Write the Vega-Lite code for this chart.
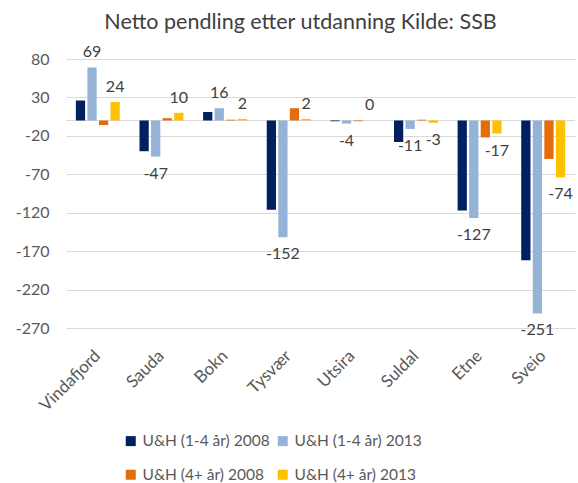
{
  "$schema": "https://vega.github.io/schema/vega-lite/v6.json",
  "width": 509,
  "height": 269,
  "autosize": {"type": "none"},
  "padding": {"left": 66, "top": 59, "right": 3, "bottom": 155},
  "background": "white",
  "title": {
    "text": "Netto pendling etter utdanning Kilde: SSB",
    "font": "Lato",
    "fontSize": 21.5,
    "fontWeight": "normal",
    "color": "#404040",
    "anchor": "middle",
    "dx": -20,
    "offset": 11
  },
  "config": {
    "view": {"stroke": null},
    "font": "Lato",
    "axis": {"labelFont": "Lato", "labelColor": "#595959", "gridColor": "#D9D9D9", "domain": false, "ticks": false}
  },
  "data": {
    "values": [
      {"kommune": "Vindafjord", "serie": "U&H (1-4 år) 2008", "verdi": 26},
      {"kommune": "Vindafjord", "serie": "U&H (1-4 år) 2013", "verdi": 69},
      {"kommune": "Vindafjord", "serie": "U&H (4+ år) 2008", "verdi": -6},
      {"kommune": "Vindafjord", "serie": "U&H (4+ år) 2013", "verdi": 24},
      {"kommune": "Sauda", "serie": "U&H (1-4 år) 2008", "verdi": -40},
      {"kommune": "Sauda", "serie": "U&H (1-4 år) 2013", "verdi": -47},
      {"kommune": "Sauda", "serie": "U&H (4+ år) 2008", "verdi": 3},
      {"kommune": "Sauda", "serie": "U&H (4+ år) 2013", "verdi": 10},
      {"kommune": "Bokn", "serie": "U&H (1-4 år) 2008", "verdi": 11},
      {"kommune": "Bokn", "serie": "U&H (1-4 år) 2013", "verdi": 16},
      {"kommune": "Bokn", "serie": "U&H (4+ år) 2008", "verdi": 1},
      {"kommune": "Bokn", "serie": "U&H (4+ år) 2013", "verdi": 2},
      {"kommune": "Tysvær", "serie": "U&H (1-4 år) 2008", "verdi": -116},
      {"kommune": "Tysvær", "serie": "U&H (1-4 år) 2013", "verdi": -152},
      {"kommune": "Tysvær", "serie": "U&H (4+ år) 2008", "verdi": 16},
      {"kommune": "Tysvær", "serie": "U&H (4+ år) 2013", "verdi": 2},
      {"kommune": "Utsira", "serie": "U&H (1-4 år) 2008", "verdi": -1},
      {"kommune": "Utsira", "serie": "U&H (1-4 år) 2013", "verdi": -4},
      {"kommune": "Utsira", "serie": "U&H (4+ år) 2008", "verdi": -1},
      {"kommune": "Utsira", "serie": "U&H (4+ år) 2013", "verdi": 0},
      {"kommune": "Suldal", "serie": "U&H (1-4 år) 2008", "verdi": -28},
      {"kommune": "Suldal", "serie": "U&H (1-4 år) 2013", "verdi": -11},
      {"kommune": "Suldal", "serie": "U&H (4+ år) 2008", "verdi": 1},
      {"kommune": "Suldal", "serie": "U&H (4+ år) 2013", "verdi": -3},
      {"kommune": "Etne", "serie": "U&H (1-4 år) 2008", "verdi": -117},
      {"kommune": "Etne", "serie": "U&H (1-4 år) 2013", "verdi": -127},
      {"kommune": "Etne", "serie": "U&H (4+ år) 2008", "verdi": -22},
      {"kommune": "Etne", "serie": "U&H (4+ år) 2013", "verdi": -17},
      {"kommune": "Sveio", "serie": "U&H (1-4 år) 2008", "verdi": -182},
      {"kommune": "Sveio", "serie": "U&H (1-4 år) 2013", "verdi": -251},
      {"kommune": "Sveio", "serie": "U&H (4+ år) 2008", "verdi": -50},
      {"kommune": "Sveio", "serie": "U&H (4+ år) 2013", "verdi": -74}
    ]
  },
  "encoding": {
    "x": {
      "field": "kommune",
      "type": "nominal",
      "sort": null,
      "scale": {"paddingInner": 0.31, "paddingOuter": 0.155},
      "axis": {"title": null, "labelAngle": -45, "labelAlign": "right", "labelBaseline": "middle", "labelFontSize": 17, "labelPadding": 25, "grid": false}
    },
    "xOffset": {
      "field": "serie",
      "type": "nominal",
      "sort": ["U&H (1-4 år) 2008", "U&H (1-4 år) 2013", "U&H (4+ år) 2008", "U&H (4+ år) 2013"],
      "scale": {"paddingInner": 0.2, "paddingOuter": 0}
    },
    "y": {
      "field": "verdi",
      "type": "quantitative",
      "scale": {"domain": [-270, 80], "nice": false, "zero": false},
      "axis": {"title": null, "values": [-270, -220, -170, -120, -70, -20, 30, 80], "labelExpr": "'' + datum.value", "labelFontSize": 16, "labelPadding": 17, "grid": true}
    }
  },
  "layer": [
    {
      "mark": {"type": "rule", "color": "#D9D9D9", "strokeWidth": 1},
      "encoding": {"x": null, "xOffset": null, "y": {"datum": 0, "type": "quantitative"}}
    },
    {
      "mark": {"type": "bar"},
      "encoding": {
        "color": {
          "field": "serie",
          "type": "nominal",
          "sort": ["U&H (1-4 år) 2008", "U&H (1-4 år) 2013", "U&H (4+ år) 2008", "U&H (4+ år) 2013"],
          "scale": {
            "domain": ["U&H (1-4 år) 2008", "U&H (1-4 år) 2013", "U&H (4+ år) 2008", "U&H (4+ år) 2013"],
            "range": ["#002060", "#95B3D7", "#E46C0A", "#FFC000"]
          },
          "legend": {
            "title": null,
            "orient": "none",
            "legendX": 57,
            "legendY": 374,
            "direction": "horizontal",
            "columns": 2,
            "symbolType": "square",
            "symbolSize": 100,
            "symbolStrokeWidth": 0,
            "labelFont": "Lato",
            "labelFontSize": 15.5,
            "labelColor": "#595959",
            "labelOffset": 4,
            "columnPadding": 5,
            "rowPadding": 17,
            "padding": 0
          }
        }
      }
    },
    {
      "transform": [{"filter": "indexof(datum.serie, '2013') >= 0 && datum.verdi >= 0"}],
      "mark": {"type": "text", "baseline": "bottom", "dy": -7, "fontSize": 16, "font": "Lato", "color": "#404040"},
      "encoding": {"text": {"field": "verdi", "type": "nominal"}}
    },
    {
      "transform": [{"filter": "indexof(datum.serie, '2013') >= 0 && datum.verdi < 0"}],
      "mark": {"type": "text", "baseline": "top", "dy": 9, "fontSize": 16, "font": "Lato", "color": "#404040"},
      "encoding": {"text": {"field": "verdi", "type": "nominal"}}
    }
  ]
}
